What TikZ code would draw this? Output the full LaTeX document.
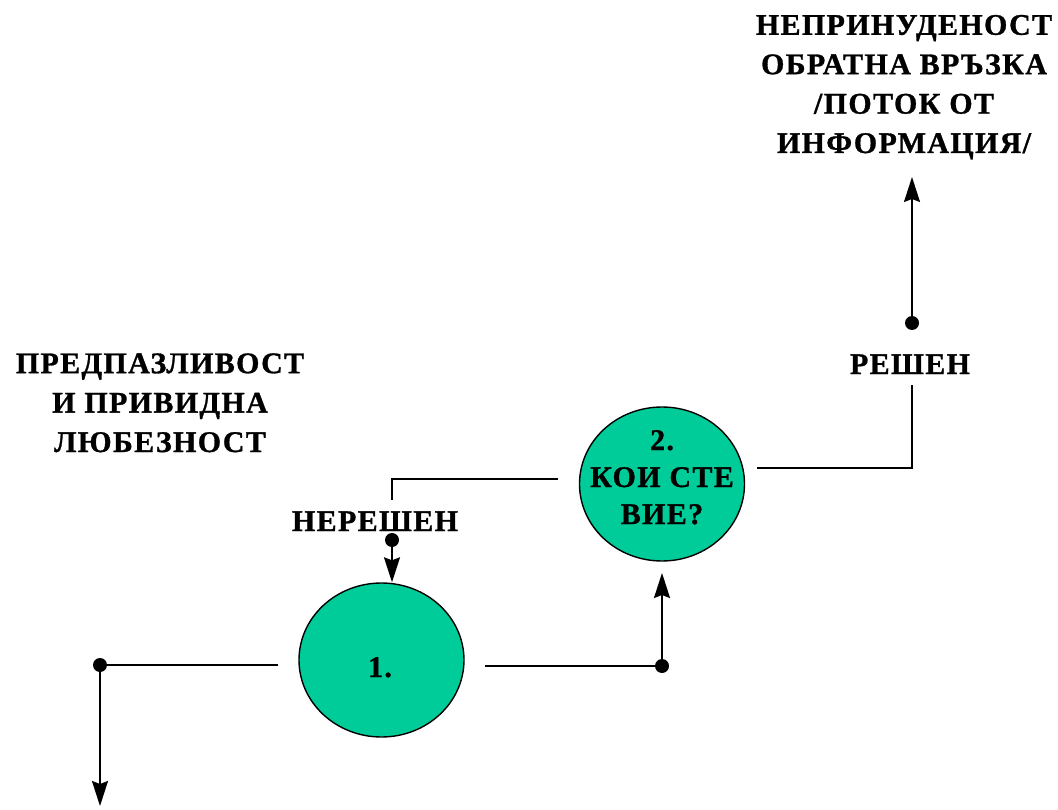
\documentclass[tikz,border=0pt]{standalone}
\usepackage{fontspec}
\setmainfont{Liberation Serif}
\usetikzlibrary{shapes.geometric,arrows.meta}
\definecolor{bubble}{HTML}{00CC99}
\newcommand{\lbl}{\fontsize{30}{39.4}\selectfont\bfseries\addfontfeatures{LetterSpace=4.5,FakeBold=1}}
\newcommand{\lbltight}{\fontsize{30}{37}\selectfont\bfseries\addfontfeatures{LetterSpace=4.5,FakeBold=1}}
\tikzset{
  stage/.style={ellipse, draw=black, line width=1.4pt, fill=bubble,
    minimum width=165pt, minimum height=154pt, inner sep=0pt},
  caption/.style={font=\lbl, align=center, inner sep=0pt, anchor=base},
  link/.style={line width=1.7pt, draw=black},
  flow/.style={link, -{Stealth[length=25pt,width=16pt,inset=3pt]}},
  dot/.style={circle, fill=black, inner sep=0pt, minimum size=14pt},
}
\begin{document}
\begin{tikzpicture}[x=1pt,y=-1pt]
\useasboundingbox (0,0) rectangle (1058,810);

% stages
\node[stage] (s1) at (381.5,660) {};
\node[stage] (s2) at (662,484) {};
\node[caption] (s1t) at (380,677) {1.};
\node[caption, font=\lbltight] (s2t) at (662,524) {2.\\КОИ СТЕ\\ВИЕ?};

% captions (anchored at the baseline of the last line)
\node[caption] (top) at (904,153)
  {НЕПРИНУДЕНОСТ\\ОБРАТНА ВРЪЗКА\\/ПОТОК ОТ\\ИНФОРМАЦИЯ/};
\node[caption] (left) at (160,452)
  {ПРЕДПАЗЛИВОСТ\\И ПРИВИДНА\\ЛЮБЕЗНОСТ};
\node[caption] (ok) at (910,374) {РЕШЕН};
\node[caption] (nok) at (375,531) {НЕРЕШЕН};

% junction dots
\node[dot] (d1) at (100,665) {};
\node[dot] (d2) at (662,666) {};
\node[dot] (d3) at (392,540) {};
\node[dot] (d4) at (912,323) {};

% free line ends
\coordinate (a1) at (278,665);
\coordinate (e1) at (100,806);
\coordinate (a2) at (485,666);
\coordinate (e2) at (662,573);
\coordinate (a3) at (558,479);
\coordinate (b3) at (392,479);
\coordinate (c3) at (392,500);
\coordinate (a4) at (757,468);
\coordinate (b4) at (912,468);
\coordinate (c4) at (912,385);
\coordinate (e4) at (912,177);

% stage 1 exit to the left
\draw[link] (a1) -- (d1.center);
\draw[flow] (d1.center) -- (e1);
% stage 1 to stage 2
\draw[link] (a2) -- (d2.center);
\draw[flow] (d2.center) -- (e2);
% unresolved: back to stage 1
\draw[link] (a3) -- (b3) -- (c3);
\draw[flow] (d3.center) -- (d3.center |- s1.north);
% resolved: onwards
\draw[link] (a4) -- (b4) -- (c4);
\draw[flow] (d4.center) -- (e4);
\end{tikzpicture}
\end{document}
